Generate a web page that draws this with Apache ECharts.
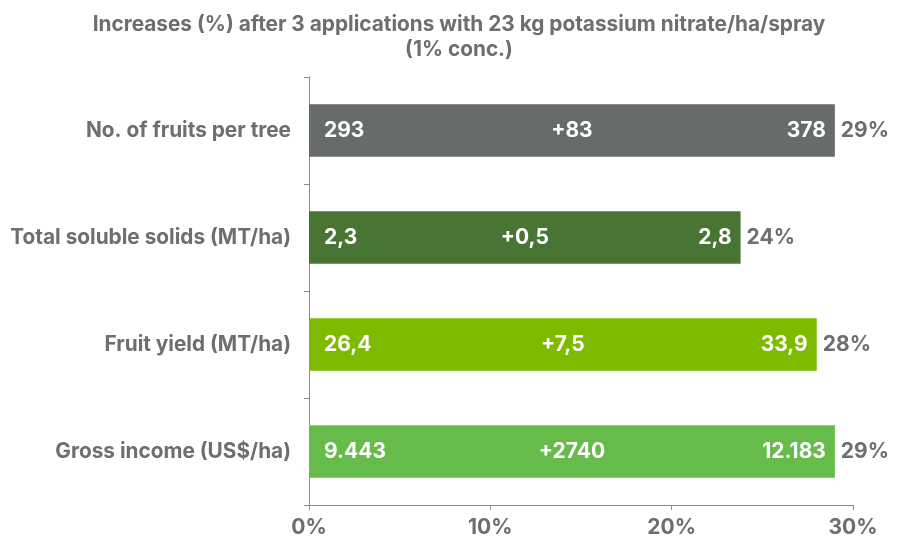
<!DOCTYPE html>
<html>
<head>
<meta charset="utf-8">
<script src="https://cdn.jsdelivr.net/npm/echarts@6/dist/echarts.min.js"></script>
<style>
  html, body { margin: 0; padding: 0; background: #fff; }
  #chart { width: 898px; height: 541px; }
</style>
</head>
<body>
<div id="chart"></div>
<script>
var categories = ['No. of fruits per tree', 'Total soluble solids (MT/ha)', 'Fruit yield (MT/ha)', 'Gross income (US$/ha)'];
var increasePct = [29, 23.8, 28, 29];
var pctLabels = ['29%', '24%', '28%', '29%'];
var beforeVals = ['293', '2,3', '26,4', '9.443'];
var diffVals = ['+83', '+0,5', '+7,5', '+2740'];
var afterVals = ['378', '2,8', '33,9', '12.183'];
var barColors = ['#686b6b', '#487534', '#7dba00', '#66bb4a'];
var xTicks = [0, 10, 20, 30];

var grey = '#6d6e70';
var font = 'Inter, "Liberation Sans", Arial, sans-serif';

var chart = echarts.init(document.getElementById('chart'));

// transparent overlay bar carrying one white label
function labelSeries(texts, pos, dist) {
  return {
    type: 'bar',
    barWidth: '49%',
    barGap: '-100%',
    silent: true,
    z: 3,
    itemStyle: { color: 'rgba(0,0,0,0)' },
    label: {
      show: true,
      position: pos,
      distance: dist,
      color: '#fff',
      fontFamily: font,
      fontWeight: 'bold',
      fontSize: 21,
      formatter: function (p) { return texts[p.dataIndex]; }
    },
    data: increasePct
  };
}

var option = {
  animation: false,
  title: {
    text: 'Increases (%) after 3 applications with 23 kg potassium nitrate/ha/spray\n(1% conc.)',
    left: 459,
    textAlign: 'center',
    top: 12,
    padding: 0,
    textStyle: {
      color: grey,
      fontFamily: font,
      fontWeight: 'bold',
      fontSize: 20.8,
      lineHeight: 25
    }
  },
  grid: { left: 309, right: 45, top: 77, bottom: 36 },
  xAxis: {
    type: 'value',
    min: xTicks[0],
    max: xTicks[xTicks.length - 1],
    interval: 10,
    splitLine: { show: false },
    axisLine: { show: true, lineStyle: { color: '#8a8a8a' } },
    axisTick: { show: true, length: 5, lineStyle: { color: '#8a8a8a' } },
    axisLabel: {
      formatter: '{value}%',
      color: grey,
      fontFamily: font,
      fontWeight: 'bold',
      fontSize: 21,
      margin: 12
    }
  },
  yAxis: {
    type: 'category',
    inverse: true,
    data: categories,
    axisLine: { show: true, lineStyle: { color: '#8a8a8a' } },
    axisTick: { show: true, length: 5, lineStyle: { color: '#8a8a8a' } },
    axisLabel: {
      color: grey,
      fontFamily: font,
      fontWeight: 'bold',
      fontSize: 20.8,
      margin: 18
    }
  },
  series: [
    {
      type: 'bar',
      barWidth: '49%',
      z: 2,
      data: increasePct.map(function (v, i) {
        return { value: v, itemStyle: { color: barColors[i] } };
      }),
      label: {
        show: true,
        position: 'right',
        distance: 6,
        color: grey,
        fontFamily: font,
        fontWeight: 'bold',
        fontSize: 21,
        formatter: function (p) { return pctLabels[p.dataIndex]; }
      }
    },
    labelSeries(beforeVals, 'insideLeft', 15),
    labelSeries(diffVals, 'inside', 0),
    labelSeries(afterVals, 'insideRight', 9)
  ]
};

chart.setOption(option);
</script>
</body>
</html>
